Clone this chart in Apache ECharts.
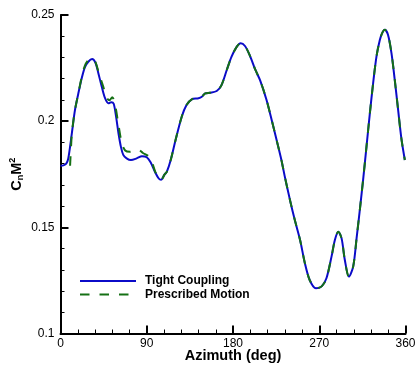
<!DOCTYPE html>
<html>
<head>
<meta charset="utf-8">
<script src="https://cdn.jsdelivr.net/npm/echarts@6/dist/echarts.min.js"></script>
<style>
  html, body { margin: 0; padding: 0; background: #fff; }
  #chart { width: 417px; height: 366px; }
</style>
</head>
<body>
<div id="chart"></div>
<script>
// Normal force coefficient C_n M^2 over one rotor revolution
const azimuthTight = [0, 3, 6, 8, 10, 12, 15, 18.5, 22, 25.5, 29, 33, 36.5, 39.5, 43, 46.5, 50, 53, 55.5, 58, 60.5, 63, 65.5, 69, 73.5, 79.5, 85, 90, 94, 98.5, 102.5, 105, 108.5, 111, 115, 120, 126.5, 131.5, 137, 144, 147.5, 151, 156, 163, 168, 173.5, 178.5, 184, 188, 192.5, 197.5, 203.5, 208.5, 215, 220.5, 225.5, 230.5, 234, 239.5, 244.5, 250, 255, 260, 266.5, 272.5, 277.5, 282.8, 286.3, 289.8, 293.3, 296.7, 300.9, 305.4, 309, 312.4, 315.8, 319.3, 322.8, 326.2, 329.7, 333.2, 336, 338.4, 341.8, 345.4, 348.8, 352.3, 355.8, 359.3];
const cnTight = [0.1790, 0.1792, 0.1800, 0.1822, 0.1880, 0.1948, 0.2050, 0.2128, 0.2200, 0.2255, 0.2280, 0.2293, 0.2275, 0.2226, 0.2163, 0.2108, 0.2084, 0.2089, 0.2082, 0.2021, 0.1943, 0.1880, 0.1841, 0.1825, 0.1817, 0.1825, 0.1835, 0.1830, 0.1806, 0.1762, 0.1730, 0.1724, 0.1748, 0.1762, 0.1817, 0.1910, 0.2021, 0.2076, 0.2103, 0.2108, 0.2115, 0.2131, 0.2134, 0.2142, 0.2170, 0.2241, 0.2304, 0.2351, 0.2367, 0.2354, 0.2310, 0.2240, 0.2190, 0.2100, 0.2003, 0.1911, 0.1817, 0.1740, 0.1628, 0.1534, 0.1440, 0.1331, 0.1252, 0.1213, 0.1222, 0.1260, 0.1362, 0.1440, 0.1479, 0.1448, 0.1346, 0.1268, 0.1315, 0.1450, 0.1585, 0.1725, 0.1880, 0.2037, 0.2178, 0.2304, 0.2382, 0.2418, 0.2430, 0.2406, 0.2319, 0.2194, 0.2053, 0.1915, 0.1817];

const azimuthPrescribed = [10, 11, 12, 15, 18.5, 22, 25.5, 29, 33, 36.5, 40, 44.5, 48, 51, 54, 57, 60.5, 64, 67.5, 72.5, 77, 81, 86, 91.6, 95.2, 98.6, 102.5, 105, 108.5, 111, 115, 120, 126.5, 131.5, 137, 144, 147.5, 151, 156, 163, 168, 173.5, 178.5, 184, 188, 192.5, 197.5, 203.5, 208.5, 215, 220.5, 225.5, 230.5, 234, 239.5, 244.5, 250, 255, 260, 266.5, 272.5, 277.5, 282.8, 286.3, 289.8, 293.3, 296.7, 300.9, 305.4, 309, 312.4, 315.8, 319.3, 322.8, 326.2, 329.7, 333.2, 336, 338.4, 341.8, 345.4, 348.8, 352.3, 355.8, 359.3];
const cnPrescribed = [0.1790, 0.1880, 0.1948, 0.2050, 0.2128, 0.2205, 0.2262, 0.2288, 0.2296, 0.2278, 0.2226, 0.2164, 0.2112, 0.2098, 0.2113, 0.2076, 0.1982, 0.1896, 0.1862, 0.1856, 0.1862, 0.1866, 0.1850, 0.1836, 0.1810, 0.1765, 0.1730, 0.1724, 0.1748, 0.1762, 0.1817, 0.1910, 0.2021, 0.2076, 0.2103, 0.2108, 0.2115, 0.2131, 0.2134, 0.2142, 0.2170, 0.2241, 0.2304, 0.2351, 0.2367, 0.2354, 0.2310, 0.2240, 0.2190, 0.2100, 0.2003, 0.1911, 0.1817, 0.1740, 0.1628, 0.1534, 0.1440, 0.1331, 0.1252, 0.1213, 0.1222, 0.1260, 0.1362, 0.1440, 0.1479, 0.1448, 0.1346, 0.1268, 0.1315, 0.1450, 0.1585, 0.1725, 0.1880, 0.2037, 0.2178, 0.2304, 0.2382, 0.2418, 0.2430, 0.2406, 0.2319, 0.2194, 0.2053, 0.1915, 0.1817];

const seriesNames = ['Tight Coupling', 'Prescribed Motion'];
const xTicks = [0, 90, 180, 270, 360];
const yTicks = [0.1, 0.15, 0.2, 0.25];

const pairs = (xs, ys) => xs.map((x, i) => [x, ys[i]]);
const FONT = '"Liberation Sans", Arial, Helvetica, sans-serif';

const axisCommon = {
  nameMoveOverlap: false,
  axisLine: { show: true, onZero: false, lineStyle: { color: '#000', width: 2 } },
  axisTick: { show: true, inside: true, length: 8, lineStyle: { color: '#000', width: 2 } },
  minorTick: { show: true, splitNumber: 5, length: 4, lineStyle: { color: '#000', width: 1 } },
  splitLine: { show: false },
  minorSplitLine: { show: false }
};

const chart = echarts.init(document.getElementById('chart'), null, { renderer: 'canvas' });
chart.setOption({
  animation: false,
  backgroundColor: '#fff',
  grid: { left: 60.5, right: 11.5, top: 15, bottom: 32.5, containLabel: false, outerBoundsMode: 'none' },
  legend: {
    orient: 'vertical',
    left: 79,
    top: 275,
    padding: 0,
    itemWidth: 56,
    itemHeight: 14,
    itemGap: 1.5,
    data: seriesNames,
    // legend samples are bare line segments, the marker is hidden
    itemStyle: { opacity: 0 },
    textStyle: { fontFamily: FONT, fontSize: 12, fontWeight: 'bold', color: '#000', padding: [0, 0, 0, 4] }
  },
  xAxis: Object.assign({
    type: 'value',
    min: xTicks[0],
    max: xTicks[xTicks.length - 1],
    interval: xTicks[1] - xTicks[0],
    name: 'Azimuth (deg)',
    nameLocation: 'middle',
    nameGap: 15,
    nameTextStyle: { fontFamily: FONT, fontSize: 14.5, fontWeight: 'bold', color: '#000' },
    axisLabel: { color: '#000', fontFamily: FONT, fontSize: 12, margin: 4 }
  }, axisCommon),
  yAxis: Object.assign({
    type: 'value',
    min: yTicks[0],
    max: yTicks[yTicks.length - 1],
    interval: 0.05,
    name: 'C{sub|n}M{sup|2}',
    nameLocation: 'middle',
    nameRotate: 90,
    nameGap: 35,
    nameTextStyle: {
      fontFamily: FONT, fontSize: 14.5, fontWeight: 'bold', color: '#000',
      rich: {
        sub: { fontFamily: FONT, fontSize: 9, fontWeight: 'bold', color: '#000', padding: [9, 0, 0, 0] },
        sup: { fontFamily: FONT, fontSize: 9, fontWeight: 'bold', color: '#000', padding: [0, 0, 8, 0] }
      }
    },
    axisLabel: {
      color: '#000', fontFamily: FONT, fontSize: 12, margin: 6,
      formatter: v => String(Math.round(v * 100) / 100)
    }
  }, axisCommon),
  series: [
    {
      name: seriesNames[0],
      type: 'line',
      data: pairs(azimuthTight, cnTight),
      showSymbol: false,
      symbol: 'none',
      smooth: 0.3,
      lineStyle: { color: '#0b0bc8', width: 2 },
      itemStyle: { color: '#0b0bc8' }
    },
    {
      name: seriesNames[1],
      type: 'line',
      data: pairs(azimuthPrescribed, cnPrescribed),
      showSymbol: false,
      symbol: 'none',
      smooth: 0.3,
      lineStyle: { color: '#157015', width: 2, type: [9.5, 10] },
      itemStyle: { color: '#157015' }
    }
  ]
});
</script>
</body>
</html>
